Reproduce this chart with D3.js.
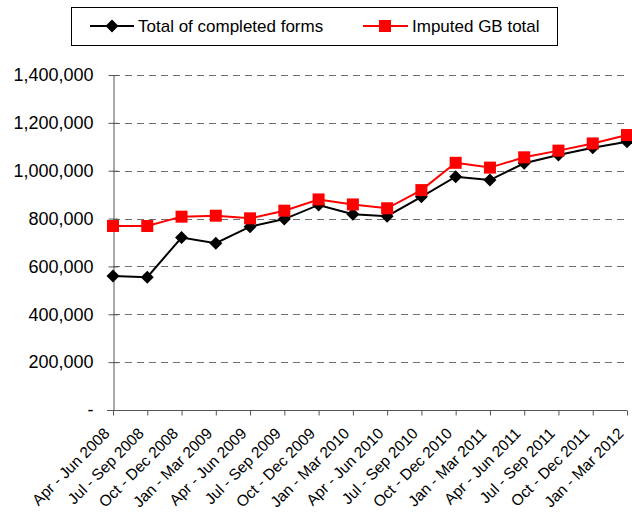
<!DOCTYPE html>
<html><head><meta charset="utf-8">
<script src="https://cdn.jsdelivr.net/npm/d3@7"></script>
<style>
body{margin:0;background:#fff;}
svg{display:block;font-family:"Liberation Sans",Arial,sans-serif;}
</style></head>
<body><svg id="c" width="632" height="513"></svg>
<script>
const categories = ["Apr - Jun 2008","Jul - Sep 2008","Oct - Dec 2008","Jan - Mar 2009","Apr - Jun 2009","Jul - Sep 2009","Oct - Dec 2009","Jan - Mar 2010","Apr - Jun 2010","Jul - Sep 2010","Oct - Dec 2010","Jan - Mar 2011","Apr - Jun 2011","Jul - Sep 2011","Oct - Dec 2011","Jan - Mar 2012"];
const completedForms = [560000,555000,721000,697000,766000,798000,857000,818000,810000,891000,975000,961000,1031000,1066000,1096000,1121000];
const imputedGB = [769000,769000,808000,812000,801000,833000,880000,859000,843000,919000,1033000,1013000,1056000,1084000,1114000,1149000];
const yTicks = [0,200000,400000,600000,800000,1000000,1200000,1400000];
const seriesNames = ["Total of completed forms","Imputed GB total"];

const svg = d3.select("#c");
const x = d3.scalePoint().domain(categories).range([113,627]).padding(0);
const y = d3.scaleLinear().domain([0,1400000]).range([410,75]);
const diamond = "M0,-6.5L6.5,0L0,6.5L-6.5,0Z";

// gridlines
svg.append("g").selectAll("line").data(yTicks.filter(d=>d>0)).join("line")
  .attr("x1",113).attr("x2",627).attr("y1",d=>Math.round(y(d))+0.5).attr("y2",d=>Math.round(y(d))+0.5)
  .attr("stroke","#707070").attr("stroke-width",1).attr("stroke-dasharray","7,5");

// y axis
const yAxis = d3.axisLeft(y).tickValues(yTicks).tickSizeInner(5).tickSizeOuter(0).tickPadding(15)
  .tickFormat(d=> d===0 ? "-" : d3.format(",")(d));
const gy = svg.append("g").attr("transform","translate(113.5,0)").call(yAxis);
gy.select(".domain").attr("stroke","#555");
gy.selectAll(".tick line").attr("stroke","#555").attr("x2",-5).attr("x1",5);
gy.selectAll(".tick text").attr("font-size",18).attr("fill","#000").attr("font-family","Liberation Sans, Arial, sans-serif");

// x axis
const xAxis = d3.axisBottom(x).tickSizeInner(5).tickSizeOuter(0);
const gx = svg.append("g").attr("transform","translate(0,410.5)").call(xAxis);
gx.select(".domain").attr("stroke","#555").attr("d","M107,0H627");
gx.selectAll(".tick line").attr("stroke","#555");
gx.selectAll(".tick text").attr("font-size",15.5).attr("fill","#000")
  .attr("font-family","Liberation Sans, Arial, sans-serif")
  .attr("text-anchor","end").attr("dy",null).attr("y",null)
  .attr("transform","translate(-3,24) rotate(-45)");

// lines
const line = d3.line().x((d,i)=>x(categories[i])).y(d=>y(d));
svg.append("path").datum(completedForms).attr("d",line).attr("fill","none").attr("stroke","#000").attr("stroke-width",2);
svg.append("g").selectAll("path").data(completedForms).join("path")
  .attr("d",diamond)
  .attr("transform",(d,i)=>`translate(${x(categories[i])},${y(d)})`)
  .attr("fill","#000");
svg.append("path").datum(imputedGB).attr("d",line).attr("fill","none").attr("stroke","#ff0000").attr("stroke-width",2);
svg.append("g").selectAll("rect").data(imputedGB).join("rect")
  .attr("x",(d,i)=>x(categories[i])-6).attr("y",d=>y(d)-6).attr("width",12).attr("height",12)
  .attr("fill","#ff0000");

// legend
const lg = svg.append("g");
lg.append("rect").attr("x",71.5).attr("y",7.5).attr("width",486).attr("height",38).attr("fill","#fff").attr("stroke","#000");
lg.append("line").attr("x1",90).attr("x2",134).attr("y1",26).attr("y2",26).attr("stroke","#000").attr("stroke-width",2);
lg.append("path").attr("d",diamond).attr("transform","translate(112,26)").attr("fill","#000");
lg.append("text").attr("x",138).attr("y",32).attr("font-size",17).text(seriesNames[0]);
lg.append("line").attr("x1",363).attr("x2",408).attr("y1",26).attr("y2",26).attr("stroke","#ff0000").attr("stroke-width",2);
lg.append("rect").attr("x",379).attr("y",20).attr("width",12).attr("height",12).attr("fill","#ff0000");
lg.append("text").attr("x",412).attr("y",32).attr("font-size",17).text(seriesNames[1]);
</script></body></html>
